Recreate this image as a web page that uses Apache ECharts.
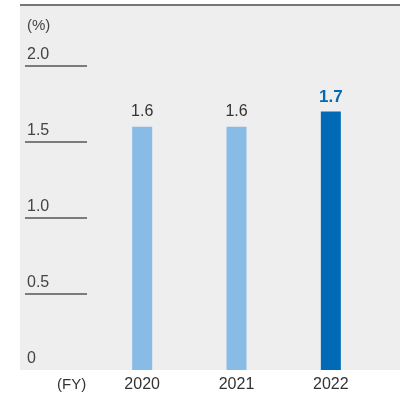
<!DOCTYPE html>
<html><head><meta charset="utf-8">
<script src="https://cdn.jsdelivr.net/npm/echarts@6/dist/echarts.min.js"></script>
<style>html,body{margin:0;padding:0;background:#fff}#c{width:400px;height:397px}</style>
</head><body><div id="c"></div>
<script>
const categories = ['2020', '2021', '2022'];
const values = [1.6, 1.6, 1.7];
const highlight = [false, false, true];
const yTicks = [0, 0.5, 1.0, 1.5, 2.0];
const yUnit = '(%)';
const xUnit = '(FY)';

const FONT = '"Liberation Sans", Arial, sans-serif';
const chart = echarts.init(document.getElementById('c'), null, {renderer: 'canvas'});
const grids = { top: 66, bottom: 27 };
chart.setOption({
  animation: false,
  backgroundColor: '#ffffff',
  graphic: [
    { type: 'rect', z: -10, shape: { x: 20, y: 5, width: 380, height: 365 }, style: { fill: '#eeeeee' } },
    { type: 'line', z: -9, shape: { x1: 20, y1: 5, x2: 400, y2: 5 }, style: { stroke: '#777777', lineWidth: 2 } },
    { type: 'text', left: 27, top: 18, style: { text: yUnit, fill: '#444', font: '15px ' + FONT } },
    { type: 'text', left: 57, top: 377, style: { text: xUnit, fill: '#333', font: '15px ' + FONT } }
  ],
  grid: [
    { left: 95, right: 22, top: grids.top, bottom: grids.bottom },
    { left: 25, width: 62, top: grids.top, bottom: grids.bottom }
  ],
  xAxis: [
    { type: 'category', gridIndex: 0, data: categories,
      axisLine: { show: false }, axisTick: { show: false },
      axisLabel: { color: '#333', fontSize: 16, fontFamily: FONT, margin: 7 } },
    { type: 'value', gridIndex: 1, show: false }
  ],
  yAxis: [
    { type: 'value', gridIndex: 0, min: yTicks[0], max: yTicks[yTicks.length - 1], interval: 0.5, show: false },
    { type: 'value', gridIndex: 1, min: yTicks[0], max: yTicks[yTicks.length - 1], interval: 0.5,
      axisLine: { show: false }, axisTick: { show: false },
      splitLine: { show: true, showMinLine: false, lineStyle: { color: '#555', width: 1.5 } },
      axisLabel: { inside: true, margin: 0, align: 'left', verticalAlign: 'bottom', padding: [0, 0, 3, 2],
        color: '#444', fontSize: 16, fontFamily: FONT,
        formatter: v => v === 0 ? '0' : v.toFixed(1) } }
  ],
  series: [{
    type: 'bar', xAxisIndex: 0, yAxisIndex: 0, barWidth: 20,
    data: values.map((v, i) => ({
      value: v,
      itemStyle: { color: highlight[i] ? '#006ab6' : '#88bbe6' },
      label: highlight[i]
        ? { show: true, position: 'top', distance: 6, color: '#006ab6', fontWeight: 'bold', fontSize: 17, fontFamily: FONT }
        : { show: true, position: 'top', distance: 7, color: '#333', fontSize: 16, fontFamily: FONT }
    })),
    label: { formatter: p => p.value.toFixed(1) }
  }]
});
</script></body></html>
